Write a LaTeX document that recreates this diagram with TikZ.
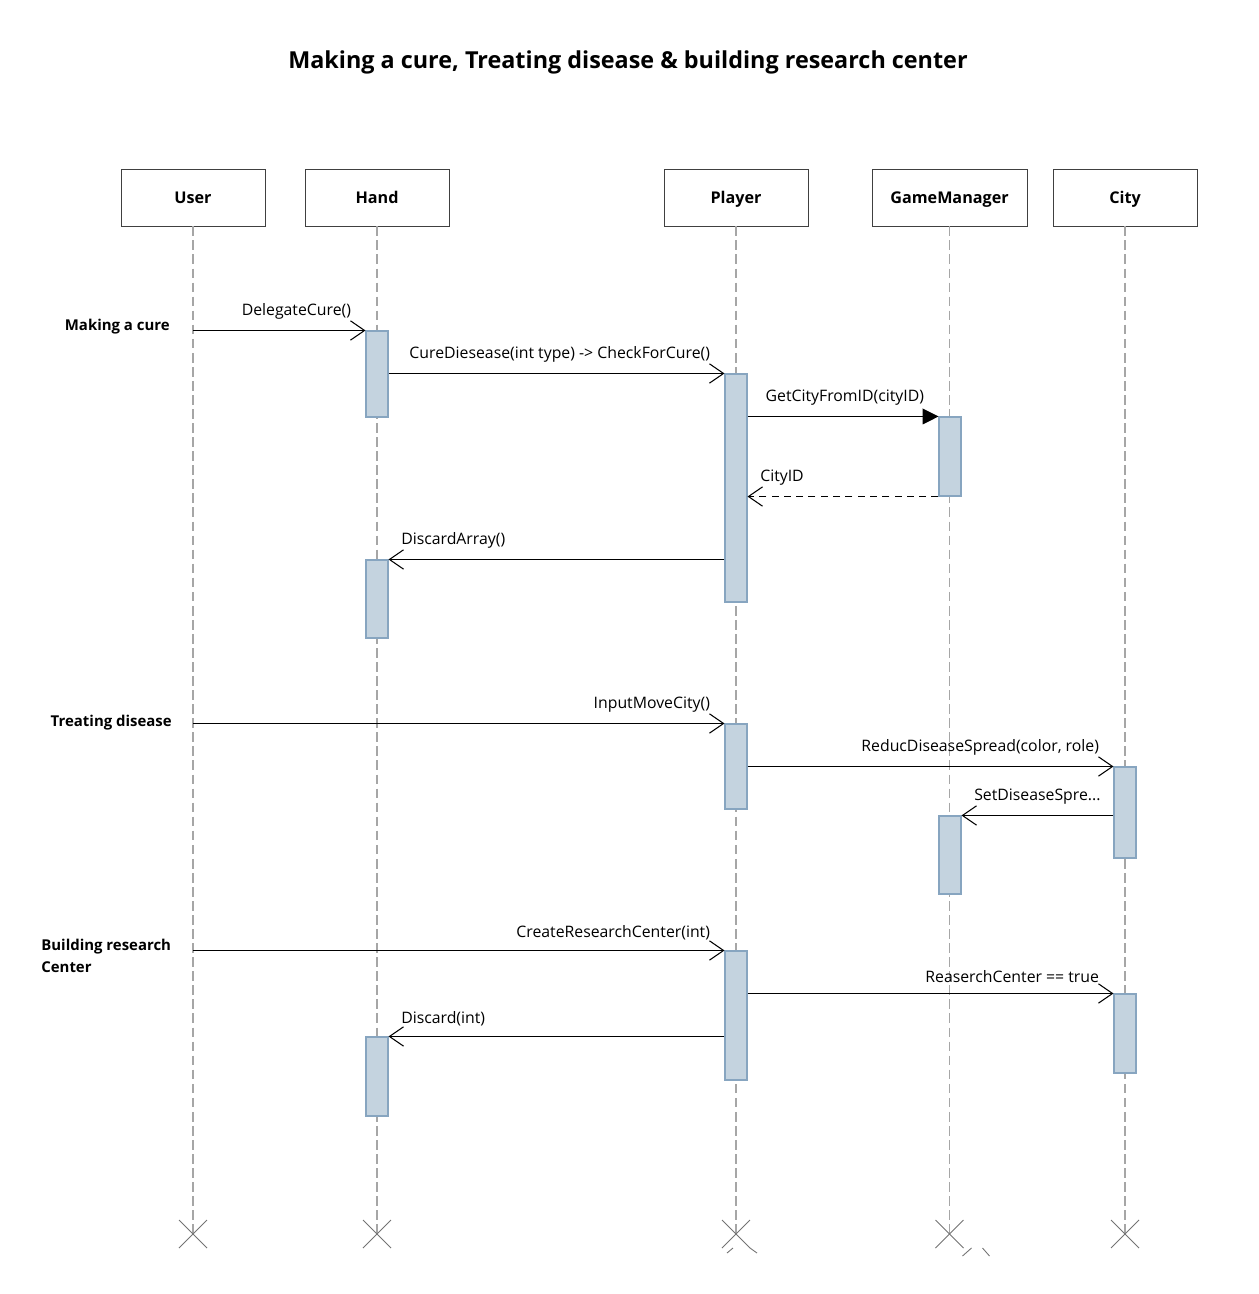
\documentclass[tikz,border=0pt]{standalone}
\usepackage{fontspec}
\setmainfont{Open Sans}
\usepackage{tikz}
\usetikzlibrary{arrows.meta,fit,calc}

\definecolor{barfill}{RGB}{196,211,223}
\definecolor{barline}{RGB}{135,165,192}

\tikzset{
  head/.style={draw=black!75,fill=white,minimum width=2.88cm,minimum height=1.14cm,text depth=0pt,font=\bfseries\fontsize{9.2}{11}\selectfont},
  life/.style={draw=black!35,line width=0.7pt,dash pattern=on 5.5pt off 2.5pt},
  bar/.style={draw=barline,fill=barfill,inner sep=0pt,line width=0.6pt},
  msg/.style={draw,line width=0.5pt,-{Straight Barb[length=8pt,width=11pt,line width=0.6pt]}},
  call/.style={draw,line width=0.5pt,-{Triangle[length=9pt,width=9pt]}},
  reply/.style={msg,dash pattern=on 4pt off 3pt},
  mlabr/.style={anchor=south east,inner sep=1pt,yshift=5pt,xshift=-7pt,font=\fontsize{9}{11}\selectfont},
  mlabl/.style={anchor=south west,inner sep=1pt,yshift=5pt,xshift=6pt,font=\fontsize{9}{11}\selectfont},
  frame/.style={inner sep=0pt,font=\bfseries\fontsize{8.5}{12.5}\selectfont},
  cross/.style={draw=black!55,line width=0.5pt}
}

\begin{document}
\begin{tikzpicture}[x=0.02cm,y=-0.02cm]
  \useasboundingbox (0,0) rectangle (1258,1294);

  \node[font=\bfseries\fontsize{13.3}{16}\selectfont] (title) at (628,62) {Making a cure, Treating disease \& building research center};

  % lifeline heads
  \node[head] (user) at (193,197.5) {User};
  \node[head] (hand) at (377,197.5) {Hand};
  \node[head] (player) at (736,197.5) {Player};
  \node[head,minimum width=3.1cm] (gm) at (949.5,197.5) {GameManager};
  \node[head] (city) at (1125,197.5) {City};

  % lifelines and end crosses
  \foreach \n in {user,hand,player,gm,city}{
    \coordinate (end) at (\n.south |- 0,1234);
    \draw[life] (\n.south) -- (end);
    \draw[cross] ($(end)+(-14,-14)$) -- ($(end)+(14,14)$);
    \draw[cross] ($(end)+(14,-14)$) -- ($(end)+(-14,14)$);
  }
  \coordinate (pend) at (player.south |- 0,1234);
  \coordinate (gend) at (gm.south |- 0,1234);
  \draw[cross] ($(pend)+(14,14)$) -- ($(pend)+(21,19)$);
  \draw[cross] ($(pend)+(-9,19)$) -- ($(pend)+(-3,14)$);
  \draw[cross] ($(gend)+(13,22)$) -- ($(gend)+(22,14)$);
  \draw[cross] ($(gend)+(33,14)$) -- ($(gend)+(40,22)$);

  % activation bars
  \node[bar,fit={(366,331)(388,417)}] (h1) {};
  \node[bar,fit={(725,374)(747,602)}] (p1) {};
  \node[bar,fit={(939,417)(961,496)}] (g1) {};
  \node[bar,fit={(366,560)(388,638)}] (h2) {};
  \node[bar,fit={(725,724)(747,809)}] (p2) {};
  \node[bar,fit={(1114,767)(1136,858)}] (c1) {};
  \node[bar,fit={(939,816)(961,894)}] (g2) {};
  \node[bar,fit={(725,951)(747,1080)}] (p3) {};
  \node[bar,fit={(1114,994)(1136,1073)}] (c2) {};
  \node[bar,fit={(366,1037)(388,1116)}] (h3) {};

  % frame labels
  \node[frame,anchor=east] (cure) at (170,327) {Making a cure};
  \node[frame,anchor=east] (treat) at (172,723) {Treating disease};
  \node[frame,anchor=north west,align=left] (build) at (41,939) {Building research\\Center};

  % messages
  \draw[msg] (user |- h1.north) -- (h1.north west) node[mlabr] {DelegateCure()};
  \draw[msg] (h1.east |- p1.north) -- (p1.north west) node[mlabr] {CureDiesease(int type) -> CheckForCure()};
  \draw[call] (p1.east |- g1.north) -- (g1.north west) node[mlabr] {GetCityFromID(cityID)};
  \draw[reply] (g1.south west) -- (p1.east |- g1.south) node[mlabl] {CityID};
  \draw[msg] (p1.west |- h2.north) -- (h2.north east) node[mlabl] {DiscardArray()};

  \draw[msg] (user |- p2.north) -- (p2.north west) node[mlabr] {InputMoveCity()};
  \draw[msg] (p2.east |- c1.north) -- (c1.north west) node[mlabr] {ReducDiseaseSpread(color, role)};
  \draw[msg] (c1.west |- g2.north) -- (g2.north east) node[mlabl] {SetDiseaseSpre...};

  \draw[msg] (user |- p3.north) -- (p3.north west) node[mlabr] {CreateResearchCenter(int)};
  \draw[msg] (p3.east |- c2.north) -- (c2.north west) node[mlabr] {ReaserchCenter == true};
  \draw[msg] (p3.west |- h3.north) -- (h3.north east) node[mlabl] {Discard(int)};
\end{tikzpicture}
\end{document}
